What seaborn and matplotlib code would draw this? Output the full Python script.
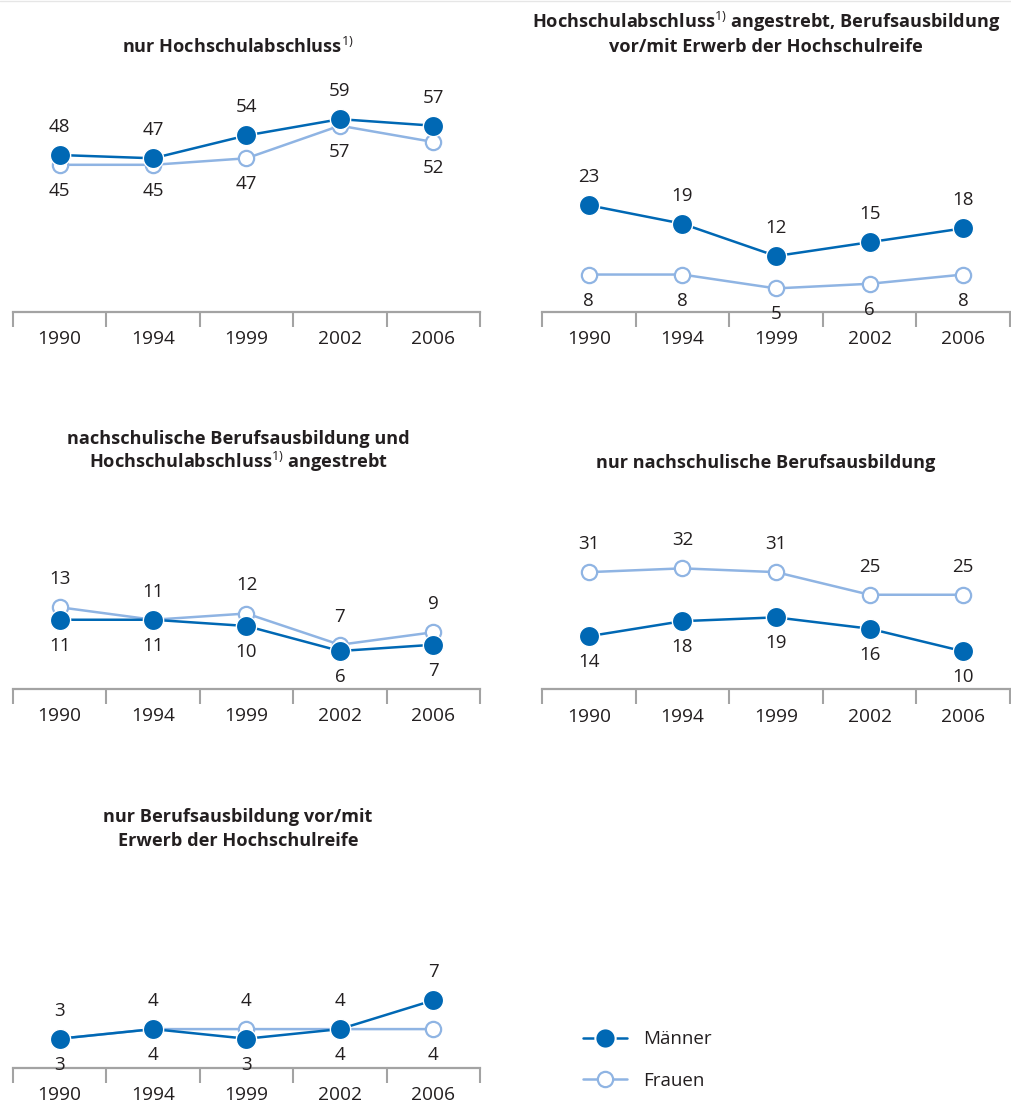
import matplotlib
matplotlib.use('Agg')
import pandas as pd
import seaborn as sns
import matplotlib.pyplot as plt
from matplotlib.lines import Line2D

# Daten
years = ['1990', '1994', '1999', '2002', '2006']

hs_maenner = [48, 47, 54, 59, 57]
hs_frauen = [45, 45, 47, 57, 52]

hs_beruf_maenner = [23, 19, 12, 15, 18]
hs_beruf_frauen = [8, 8, 5, 6, 8]

nach_hs_maenner = [11, 11, 10, 6, 7]
nach_hs_frauen = [13, 11, 12, 7, 9]

nach_maenner = [14, 18, 19, 16, 10]
nach_frauen = [31, 32, 31, 25, 25]

beruf_maenner = [3, 4, 3, 4, 7]
beruf_frauen = [3, 4, 4, 4, 4]

titles = [
    ['nur Hochschulabschluss$^{1)}$'],
    ['Hochschulabschluss$^{1)}$ angestrebt, Berufsausbildung',
     'vor/mit Erwerb der Hochschulreife'],
    ['nachschulische Berufsausbildung und',
     'Hochschulabschluss$^{1)}$ angestrebt'],
    ['nur nachschulische Berufsausbildung'],
    ['nur Berufsausbildung vor/mit', 'Erwerb der Hochschulreife'],
]

DARK = '#0068b4'
LIGHT = '#8fb4e3'
GREY = '#a3a3a3'
TXT = '#231f20'

sns.set_theme(style='white')
plt.rcParams['font.family'] = ['Open Sans', 'DejaVu Sans']
plt.rcParams['mathtext.fontset'] = 'custom'
plt.rcParams['mathtext.rm'] = 'Open Sans'
plt.rcParams['mathtext.default'] = 'rm'

W, H = 1012, 1102
fig = plt.figure(figsize=(W / 100, H / 100), dpi=100)

# Layout pro Panel (Pixel)
layout = [
    dict(m=hs_maenner, f=hs_frauen, left=13, right=480, axis=311.5, scale=3.26, tx=238, base=[53]),
    dict(m=hs_beruf_maenner, f=hs_beruf_frauen, left=542, right=1010, axis=311.5, scale=4.62, tx=766, base=[28, 52]),
    dict(m=nach_hs_maenner, f=nach_hs_frauen, left=13, right=480, axis=688.5, scale=6.25, tx=238, base=[444, 468]),
    dict(m=nach_maenner, f=nach_frauen, left=542, right=1010, axis=689, scale=3.77, tx=766, base=[468]),
    dict(m=beruf_maenner, f=beruf_frauen, left=13, right=480, axis=1067.5, scale=9.6, tx=238, base=[822, 846]),
]

AX_H = 200
for p, title in zip(layout, titles):
    ax = fig.add_axes([p['left'] / W, 1 - p['axis'] / H, (p['right'] - p['left']) / W, AX_H / H])
    df = pd.DataFrame({'Jahr': years, 'Männer': p['m'], 'Frauen': p['f']})

    sns.lineplot(data=df, x='Jahr', y='Frauen', ax=ax, color=LIGHT, linewidth=1.8,
                 marker='o', markersize=11, markerfacecolor='white',
                 markeredgecolor=LIGHT, markeredgewidth=1.6, clip_on=False)
    sns.lineplot(data=df, x='Jahr', y='Männer', ax=ax, color=DARK, linewidth=1.8,
                 marker='o', markersize=14.6, markerfacecolor=DARK,
                 markeredgecolor='white', markeredgewidth=1.0, clip_on=False)

    # Werte beschriften: höherer Wert oben, niedrigerer unten
    for i, (m, f) in enumerate(zip(p['m'], p['f'])):
        if f > m:
            top, bottom = f, m
        else:
            top, bottom = m, f
        ax.annotate(str(top), (i, top), xytext=(0, 28), textcoords='offset pixels',
                    ha='center', va='center', fontsize=13.5, color=TXT)
        ax.annotate(str(bottom), (i, bottom), xytext=(0, -26), textcoords='offset pixels',
                    ha='center', va='center', fontsize=13.5, color=TXT)

    ax.set_xlim(-0.5, 4.5)
    ax.set_ylim(0, AX_H / p['scale'])
    ax.set_xlabel('')
    ax.set_ylabel('')
    ax.set_yticks([])
    ax.set_xticks(range(len(years)))
    ax.set_xticklabels(years)
    ax.set_xticks([i - 0.5 for i in range(len(years) + 1)], minor=True)
    ax.tick_params(axis='x', which='major', length=0, pad=13.5, labelsize=13.8, labelcolor=TXT)
    ax.tick_params(axis='x', which='minor', length=11, width=1.5, color=GREY, direction='out', bottom=True)
    sns.despine(ax=ax, left=True)
    ax.spines['bottom'].set_color(GREY)
    ax.spines['bottom'].set_linewidth(1.6)
    ax.patch.set_alpha(0)

    for line, b in zip(title, p['base']):
        fig.text(p['tx'] / W, 1 - b / H, line, ha='center', va='baseline',
                 fontsize=13.1, fontweight='bold', color=TXT)

# Legende
handles = [
    Line2D([], [], color=DARK, linewidth=1.8, marker='o', markersize=14.6,
           markerfacecolor=DARK, markeredgecolor='white', markeredgewidth=1.5),
    Line2D([], [], color=LIGHT, linewidth=1.8, marker='o', markersize=11,
           markerfacecolor='white', markeredgecolor=LIGHT, markeredgewidth=1.6),
]
fig.legend(handles, ['Männer', 'Frauen'], loc='center left',
           bbox_to_anchor=(583 / W, 1 - 1060 / H), frameon=False, fontsize=13.5,
           handlelength=2.35, handletextpad=0.85, labelspacing=1.25,
           borderpad=0, borderaxespad=0, labelcolor=TXT)

fig.add_artist(Line2D([0, 1], [1 - 1 / H, 1 - 1 / H], color='#e6e6e6', linewidth=1))

fig.savefig('out.png', dpi=100)
